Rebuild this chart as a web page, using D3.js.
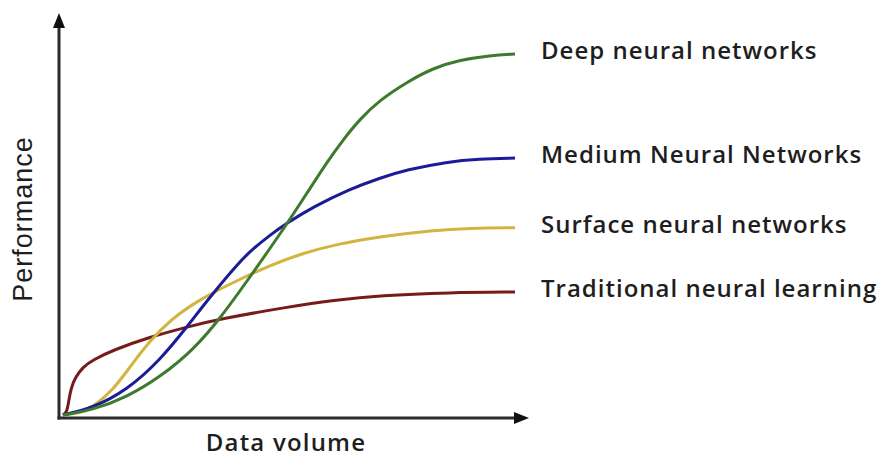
<!DOCTYPE html>
<html><head><meta charset="utf-8">
<script src="https://cdn.jsdelivr.net/npm/d3@7/dist/d3.min.js"></script>
<style>body{margin:0;background:#fff}svg{display:block}</style>
</head><body>
<svg id="c" width="881" height="457"></svg>
<script>
// ---- data (x: data volume 0-100, y: performance 0-100) ----
const seriesNames = ["Deep neural networks", "Medium Neural Networks", "Surface neural networks", "Traditional neural learning"];
const seriesColors = ["#3d7a2e", "#1c1c96", "#d2b440", "#761b1b"];

const deepX = [0, 6.6, 14.2, 21.5, 28.8, 34.7, 42.0, 49.1, 54.0, 58.4, 61.9, 65.7, 70.1, 76.1, 81.9, 87.8, 94.5, 100];
const deepY = [0, 1.25, 4.5, 9.5, 16.25, 24.0, 35.5, 47.0, 55.5, 63.2, 68.7, 74.0, 78.75, 83.25, 86.75, 88.75, 89.9, 90.25];

const mediumX = [0, 6.6, 14.2, 21.5, 27.4, 32.5, 39.2, 42.0, 45.8, 49.6, 55.3, 63.5, 70.1, 76.0, 85.0, 92.0, 100];
const mediumY = [0, 1.75, 6.25, 13.75, 22.0, 29.5, 38.5, 41.5, 45.0, 48.0, 52.0, 56.5, 59.25, 61.3, 63.3, 64.0, 64.25];

const surfaceX = [0, 3.8, 6.6, 11.1, 14.8, 19.2, 23.7, 30.3, 39.2, 46.0, 53.1, 61.0, 70.1, 81.9, 90.0, 100];
const surfaceY = [0, 0.5, 2.0, 6.25, 12.0, 18.5, 23.75, 29.0, 34.0, 37.5, 40.5, 42.8, 44.6, 46.2, 46.7, 46.8];

const tradX = [0, 0.9, 1.3, 1.8, 2.65, 4.4, 6.6, 11.1, 19.2, 27.4, 34.7, 49.6, 60.0, 70.1, 85.6, 100];
const tradY = [0, 0.75, 3.75, 6.75, 9.25, 12.0, 13.75, 16.25, 19.5, 22.0, 24.0, 27.0, 28.7, 29.9, 30.6, 30.75];

const xAxisTitle = "Data volume";
const yAxisTitle = "Performance";

// ---- build ----
const seriesX = [deepX, mediumX, surfaceX, tradX];
const seriesY = [deepY, mediumY, surfaceY, tradY];
const series = seriesNames.map((name, i) => ({
  name, color: seriesColors[i],
  points: seriesX[i].map((xv, j) => [xv, seriesY[i][j]])
}));

const svg = d3.select("#c");
const x = d3.scaleLinear().domain([0, 100]).range([63, 515]);
const y = d3.scaleLinear().domain([0, 100]).range([415, 15]);

const axisColor = "#2b2b2b";
const ax0 = x.range()[0] - 4;        // y axis position
const ay0 = y.range()[0] + 3;        // x axis position
const yTop = 13, xRight = 529;

// axes lines
svg.append("line").attr("x1", ax0).attr("y1", ay0 + 1.5).attr("x2", ax0).attr("y2", yTop + 10)
  .attr("stroke", axisColor).attr("stroke-width", 3);
svg.append("line").attr("x1", ax0 - 1.5).attr("y1", ay0).attr("x2", xRight - 10).attr("y2", ay0)
  .attr("stroke", axisColor).attr("stroke-width", 3);
// arrowheads
svg.append("path").attr("d", `M${ax0},${yTop} L${ax0 - 6},${yTop + 15} L${ax0 + 6},${yTop + 15} Z`).attr("fill", "#111");
svg.append("path").attr("d", `M${xRight},${ay0} L${xRight - 15},${ay0 - 6} L${xRight - 15},${ay0 + 6} Z`).attr("fill", "#111");

// curves
const line = d3.line().x(d => x(d[0])).y(d => y(d[1])).curve(d3.curveBasis);
[3, 2, 1, 0].forEach(i => {
  const s = series[i];
  svg.append("path").attr("d", line(s.points)).attr("fill", "none")
    .attr("stroke", s.color).attr("stroke-width", 3).attr("stroke-linecap", "butt");
});

// series labels
const labelFont = "'Open Sans', sans-serif";
series.forEach(s => {
  const last = s.points[s.points.length - 1];
  svg.append("text").attr("x", x(last[0]) + 26).attr("y", y(last[1]) + 5)
    .attr("font-family", labelFont).attr("font-weight", 600)
    .attr("font-size", 24).attr("letter-spacing", 1).attr("fill", "#1e1e1e").text(s.name);
});

// axis titles
svg.append("text").attr("x", 286).attr("y", 451).attr("text-anchor", "middle")
  .attr("font-family", labelFont).attr("font-weight", 600)
  .attr("font-size", 24).attr("letter-spacing", 1.2).attr("fill", "#1e1e1e").text(xAxisTitle);
svg.append("text").attr("transform", "translate(32,219) rotate(-90)").attr("text-anchor", "middle")
  .attr("font-family", "'Liberation Sans', Arial, sans-serif").attr("font-weight", 500)
  .attr("font-size", 27).attr("letter-spacing", 1).attr("fill", "#1e1e1e").text(yAxisTitle);
</script>
</body></html>
